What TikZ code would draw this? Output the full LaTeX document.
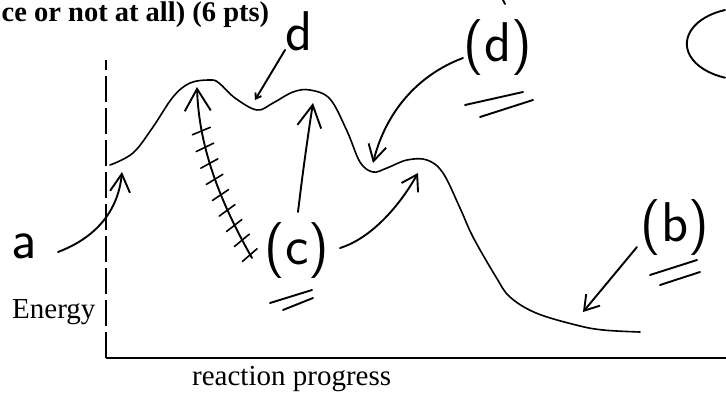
\documentclass[tikz,border=0pt]{standalone}
\usepackage{fontspec}
\setmainfont{Liberation Serif}
\usetikzlibrary{arrows.meta,decorations.markings}
\begin{document}
\begin{tikzpicture}[x=1pt,y=-1pt,
  hand/.style={line width=1.9pt,line cap=round,line join=round},
  barb/.style 2 args={hand,-{Straight Barb[length=#1pt,width=#2pt]}},
  hlabel/.style={inner sep=0pt,font=\sffamily\fontsize{56}{56}\selectfont},
  ptext/.style={inner sep=0pt,anchor=base west,font=\fontsize{29}{29}\selectfont},
  curve/.style={line width=1.6pt,line cap=round,line join=round},
  axis/.style={line width=2pt}
]
\useasboundingbox (0,0) rectangle (726,402);

% printed texts
\node[ptext,font=\bfseries\fontsize{28.5}{29}\selectfont] (title) at (1.5,21.5) {ce or not at all) (6 pts)};
\node[ptext] (energy) at (12,318) {Energy};
\node[ptext] (xlab) at (192,385) {reaction progress};

% axes
\coordinate (o) at (106,358);
\coordinate (ytop) at (106,60);
\coordinate (xend) at (726,358);
\draw[axis,line width=1.6pt,dash pattern=on 26pt off 6pt] (o) -- (ytop);
\draw[axis] (o) -- (xend);

% energy curve
\draw[curve] plot[smooth,tension=0.6] coordinates {
 (110,165) (133,153) (153,127) (173,97) (190,83) (210,80) (219,83) (235,98)
 (257,110) (273,103) (293,92) (310,90) (330,99) (347,131) (360,162) (373,172)
 (387,168) (407,160) (427,160) (443,173) (460,208) (473,237) (496,277)
 (510,297) (536,313) (576,325) (603,330) (640,332)};

% handwritten labels
\node[hlabel] (la) at (24,246) {a};
\node[hlabel] (ld) at (299,31) {d};
\node[hlabel] (ldd) at (498,48) {(d)};
\node[hlabel] (lc) at (297,251) {(c)};
\node[hlabel] (lb) at (675,228) {(b)};

% connector end points
\coordinate (a0) at (58,252);   \coordinate (a1) at (122,172);
\coordinate (d0) at (285,50);   \coordinate (d1) at (255,100);
\coordinate (dd0) at (463,58);  \coordinate (dd1) at (373,163);
\coordinate (cu0) at (298,212); \coordinate (cu1) at (313,103);
\coordinate (cr0) at (340,248); \coordinate (cr1) at (418,173);
\coordinate (ch0) at (252,258); \coordinate (ch1) at (197,87);
\coordinate (b0) at (637,247);  \coordinate (b1) at (583,312);

% arrows
\draw[barb={18}{20}] (a0) .. controls (95,238) and (118,212) .. (a1);
\draw[barb={5}{7}] (d0) -- (d1);
\draw[barb={16}{18}] (dd0) .. controls (415,76) and (385,115) .. (dd1);
\draw[barb={22}{24}] (cu0) .. controls (303,170) and (308,135) .. (cu1);
\draw[barb={15}{19}] (cr0) .. controls (372,238) and (400,205) .. (cr1);
\draw[barb={14}{18}] (b0) -- (b1);
\draw[barb={22}{26},postaction={decorate},
  decoration={markings,mark=between positions 0.02 and 0.76 step 0.092 with
   {\draw[hand,-,line width=1.6pt] (-2pt,10pt) -- (2pt,-9pt);}}]
  (ch0) .. controls (222,205) and (199,150) .. (ch1);

% double underlines
\draw[hand] (465,105) -- (523,92);
\draw[hand] (480,117) -- (533,100);
\draw[hand] (270,303) -- (312,290);
\draw[hand] (283,310) -- (313,298);
\draw[hand] (650,275) -- (697,260);
\draw[hand] (660,285) -- (700,272);

% partial oval at upper right and stray mark
\draw[hand] (725,10) arc[start angle=250,end angle=110,x radius=58,y radius=36];
\draw[hand] (503,0) -- (505,4);
\end{tikzpicture}
\end{document}
